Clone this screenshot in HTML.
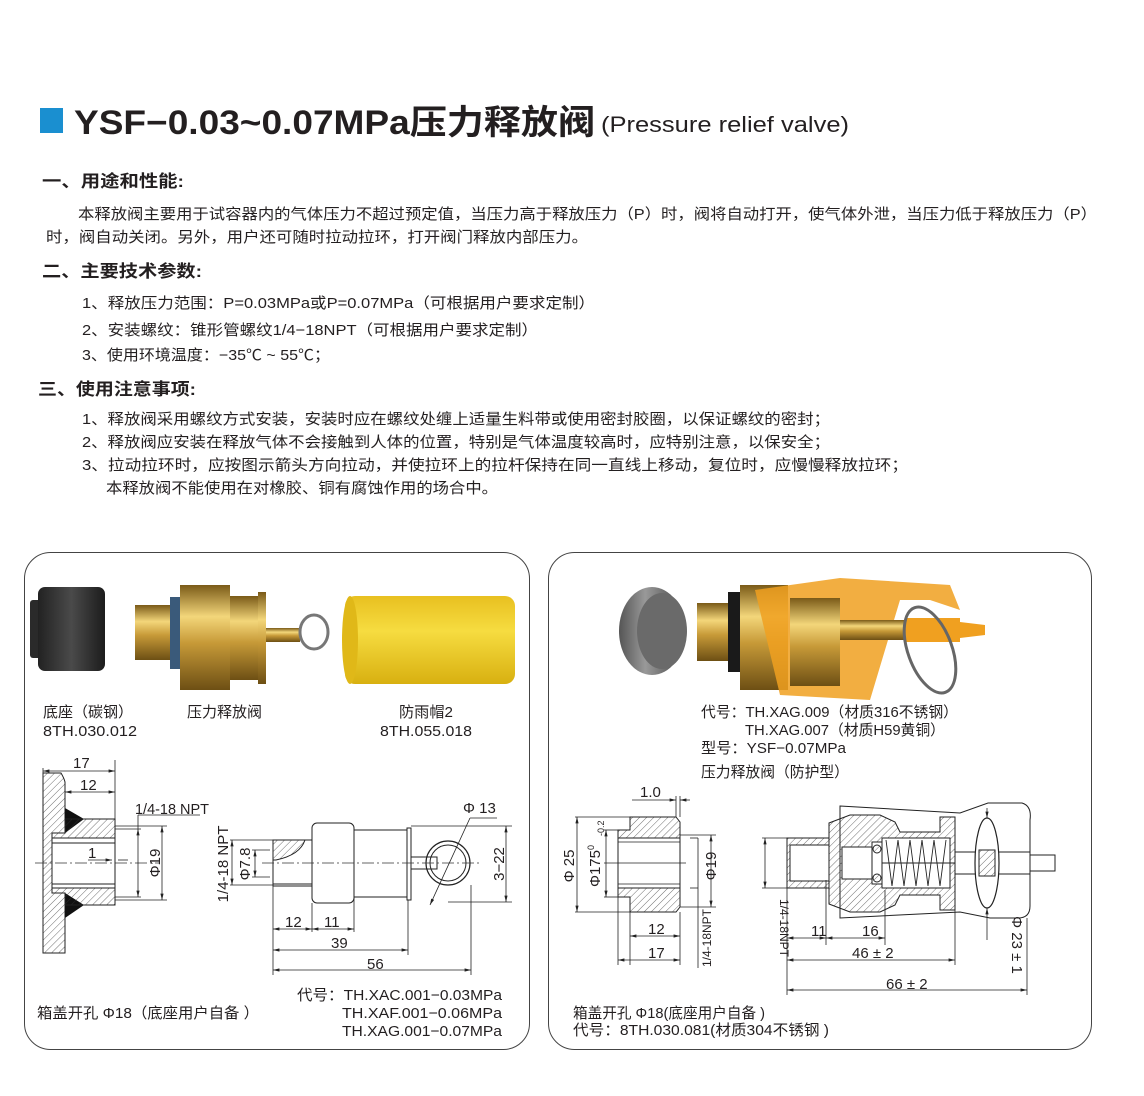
<!DOCTYPE html>
<html><head><meta charset="utf-8"><style>
html,body{margin:0;padding:0;background:#fff;}
svg{display:block;}
text{font-family:"Liberation Sans","Noto Sans CJK SC",sans-serif;fill:#231f20;}
.b{font-size:15px;}
.h{font-size:17px;font-weight:bold;}
.d{font-size:15px;}
.l{stroke:#222;stroke-width:1;fill:none;}
.t{stroke:#222;stroke-width:0.8;fill:none;}
.c{stroke:#333;stroke-width:0.7;stroke-dasharray:12 3 2 3;fill:none;}
</style></head><body>
<svg width="1144" height="1096" viewBox="0 0 1144 1096" xmlns="http://www.w3.org/2000/svg">
<defs>
<pattern id="hx" width="5" height="5" patternUnits="userSpaceOnUse" patternTransform="rotate(45)"><line x1="0" y1="0" x2="0" y2="5" stroke="#333" stroke-width="0.7"/></pattern>
<marker id="ar" markerWidth="8" markerHeight="6" refX="8" refY="3" orient="auto-start-reverse"><path d="M0,1 L8,3 L0,5Z" fill="#222"/></marker>
<linearGradient id="brass" x1="0" y1="0" x2="0" y2="1"><stop offset="0" stop-color="#7a5a18"/><stop offset=".3" stop-color="#f3d67a"/><stop offset=".55" stop-color="#c79a38"/><stop offset="1" stop-color="#6d4f14"/></linearGradient>
<linearGradient id="blk" x1="0" y1="0" x2="1" y2="0"><stop offset="0" stop-color="#222"/><stop offset=".5" stop-color="#4a4a4a"/><stop offset="1" stop-color="#1c1c1c"/></linearGradient>
<linearGradient id="yel" x1="0" y1="0" x2="0" y2="1"><stop offset="0" stop-color="#e8c020"/><stop offset=".4" stop-color="#f6dc40"/><stop offset="1" stop-color="#d8b010"/></linearGradient>
<linearGradient id="stl" x1="0" y1="0" x2="1" y2="0"><stop offset="0" stop-color="#555"/><stop offset=".4" stop-color="#999"/><stop offset="1" stop-color="#444"/></linearGradient>
</defs>

<!-- Title -->
<rect x="40" y="108" width="23" height="25" fill="#1a8fd0"/>
<text x="74" y="134" font-size="34" font-weight="bold" textLength="521" lengthAdjust="spacingAndGlyphs">YSF−0.03~0.07MPa压力释放阀</text>
<text x="601" y="132" font-size="22" textLength="248" lengthAdjust="spacingAndGlyphs">(Pressure relief valve)</text>

<text x="42" y="187" class="h" textLength="142" lengthAdjust="spacingAndGlyphs">一、用途和性能:</text>
<text x="78" y="219" class="b" textLength="1019" lengthAdjust="spacingAndGlyphs">本释放阀主要用于试容器内的气体压力不超过预定值，当压力高于释放压力（P）时，阀将自动打开，使气体外泄，当压力低于释放压力（P）</text>
<text x="46" y="242" class="b" textLength="542" lengthAdjust="spacingAndGlyphs">时，阀自动关闭。另外，用户还可随时拉动拉环，打开阀门释放内部压力。</text>

<text x="42" y="277" class="h" textLength="160" lengthAdjust="spacingAndGlyphs">二、主要技术参数:</text>
<text x="82" y="308" class="b" textLength="513" lengthAdjust="spacingAndGlyphs">1、释放压力范围：P=0.03MPa或P=0.07MPa（可根据用户要求定制）</text>
<text x="82" y="335" class="b" textLength="456" lengthAdjust="spacingAndGlyphs">2、安装螺纹：锥形管螺纹1/4−18NPT（可根据用户要求定制）</text>
<text x="82" y="360" class="b" textLength="248" lengthAdjust="spacingAndGlyphs">3、使用环境温度：−35℃ ~ 55℃；</text>

<text x="38" y="395" class="h" textLength="158" lengthAdjust="spacingAndGlyphs">三、使用注意事项:</text>
<text x="82" y="424" class="b" textLength="748" lengthAdjust="spacingAndGlyphs">1、释放阀采用螺纹方式安装，安装时应在螺纹处缠上适量生料带或使用密封胶圈，以保证螺纹的密封；</text>
<text x="82" y="447" class="b" textLength="748" lengthAdjust="spacingAndGlyphs">2、释放阀应安装在释放气体不会接触到人体的位置，特别是气体温度较高时，应特别注意，以保安全；</text>
<text x="82" y="470" class="b" textLength="826" lengthAdjust="spacingAndGlyphs">3、拉动拉环时，应按图示箭头方向拉动，并使拉环上的拉杆保持在同一直线上移动，复位时，应慢慢释放拉环；</text>
<text x="106" y="493" class="b" textLength="392" lengthAdjust="spacingAndGlyphs">本释放阀不能使用在对橡胶、铜有腐蚀作用的场合中。</text>

<!-- Panels -->
<rect x="24.5" y="552.5" width="505" height="497" rx="26" fill="none" stroke="#444" stroke-width="1"/>
<rect x="548.5" y="552.5" width="543" height="497" rx="26" fill="none" stroke="#444" stroke-width="1"/>

<!-- Left photos -->
<rect x="30" y="600" width="12" height="58" rx="3" fill="#2a2a2a"/>
<rect x="38" y="587" width="67" height="84" rx="7" fill="url(#blk)"/>
<rect x="135" y="605" width="40" height="55" fill="url(#brass)"/>
<rect x="170" y="597" width="12" height="72" fill="#3a5a7a"/>
<rect x="180" y="585" width="50" height="105" fill="url(#brass)"/>
<rect x="230" y="596" width="30" height="84" fill="url(#brass)"/>
<rect x="258" y="592" width="8" height="92" fill="url(#brass)"/>
<rect x="266" y="628" width="34" height="14" fill="url(#brass)"/>
<ellipse cx="314" cy="632" rx="14" ry="17" fill="none" stroke="#777" stroke-width="3"/>
<rect x="345" y="596" width="170" height="88" rx="10" fill="url(#yel)"/>
<ellipse cx="350" cy="640" rx="8" ry="44" fill="#e0b818"/>

<text x="43" y="717" class="d" textLength="90" lengthAdjust="spacingAndGlyphs">底座（碳钢）</text>
<text x="43" y="736" class="d" textLength="94" lengthAdjust="spacingAndGlyphs">8TH.030.012</text>
<text x="187" y="717" class="d" textLength="75" lengthAdjust="spacingAndGlyphs">压力释放阀</text>
<text x="399" y="717" class="d" textLength="54" lengthAdjust="spacingAndGlyphs">防雨帽2</text>
<text x="380" y="736" class="d" textLength="92" lengthAdjust="spacingAndGlyphs">8TH.055.018</text>

<!-- Right photo -->
<ellipse cx="652" cy="631" rx="33" ry="44" fill="url(#stl)"/>
<ellipse cx="662" cy="631" rx="25" ry="38" fill="#6a6a6a"/>
<rect x="697" y="603" width="35" height="58" fill="url(#brass)"/>
<rect x="728" y="592" width="14" height="80" fill="#1a1a1a"/>
<rect x="740" y="585" width="48" height="105" fill="url(#brass)"/>
<path d="M755,590 L840,578 L950,585 L960,610 L930,600 L900,600 L870,700 L780,695 Z" fill="#f0a020" opacity="0.85"/>
<rect x="790" y="598" width="50" height="88" fill="url(#brass)"/>
<rect x="840" y="620" width="80" height="20" fill="url(#brass)"/>
<rect x="905" y="618" width="55" height="24" fill="#f0a020"/>
<path d="M960,622 L985,625 L985,635 L960,638Z" fill="#f0a020"/>
<ellipse cx="930" cy="650" rx="22" ry="45" fill="none" stroke="#666" stroke-width="3" transform="rotate(-20 930 650)"/>

<text x="701" y="717" class="d" textLength="257" lengthAdjust="spacingAndGlyphs">代号：TH.XAG.009（材质316不锈钢）</text>
<text x="745" y="735" class="d" textLength="200" lengthAdjust="spacingAndGlyphs">TH.XAG.007（材质H59黄铜）</text>
<text x="701" y="753" class="d" textLength="145" lengthAdjust="spacingAndGlyphs">型号：YSF−0.07MPa</text>
<text x="701" y="777" class="d" textLength="148" lengthAdjust="spacingAndGlyphs">压力释放阀（防护型）</text>

<!-- LEFT DRAWING: base -->
<path d="M43,773 L61,773 Q64,778 65,782 L65,833 L52,833 L52,893 L65,893 L65,953 L43,953 Z" fill="url(#hx)" stroke="#222"/>
<path d="M65,808 L84,819 L65,833Z M65,918 L84,905 L65,893Z" fill="#111"/>
<path d="M65,819 L115,819 L115,838 L52,838 L52,833 L65,833 Z" fill="url(#hx)" stroke="#222"/>
<path d="M65,905 L115,905 L115,888 L52,888 L52,893 L65,893 Z" fill="url(#hx)" stroke="#222"/>
<line x1="52" y1="843" x2="115" y2="843" class="l"/><line x1="52" y1="884" x2="115" y2="884" class="l"/>
<line x1="115" y1="838" x2="115" y2="888" class="l"/>
<line x1="35" y1="863" x2="160" y2="863" class="c"/>
<!-- ext and dims -->
<line x1="43" y1="768" x2="43" y2="773" class="t"/><line x1="115" y1="760" x2="115" y2="819" class="t"/>
<line x1="43" y1="771" x2="115" y2="771" class="t" marker-start="url(#ar)" marker-end="url(#ar)"/>
<text x="73" y="768" class="d">17</text>
<line x1="65" y1="792" x2="115" y2="792" class="t" marker-start="url(#ar)" marker-end="url(#ar)"/>
<text x="80" y="790" class="d">12</text>
<line x1="115" y1="829" x2="141" y2="829" class="t"/><line x1="115" y1="897" x2="141" y2="897" class="t"/>
<line x1="138" y1="829" x2="138" y2="897" class="t" marker-start="url(#ar)" marker-end="url(#ar)"/>
<line x1="138" y1="815" x2="200" y2="815" class="t"/><line x1="138" y1="815" x2="138" y2="829" class="t"/>
<text x="135" y="814" class="d" textLength="74" lengthAdjust="spacingAndGlyphs">1/4-18 NPT</text>
<line x1="115" y1="826" x2="167" y2="826" class="t"/><line x1="115" y1="900" x2="167" y2="900" class="t"/>
<line x1="162" y1="826" x2="162" y2="900" class="t" marker-start="url(#ar)" marker-end="url(#ar)"/>
<text transform="translate(160,863) rotate(-90)" class="d" text-anchor="middle">Φ19</text>
<line x1="88" y1="860" x2="112" y2="860" class="t" marker-end="url(#ar)"/><line x1="118" y1="860" x2="128" y2="860" class="t"/>
<text x="88" y="858" class="d">1</text>

<!-- left valve -->
<path d="M273,840 L312,840 L312,886 L273,886 Z" fill="#fff" stroke="#222"/>
<path d="M273,840 L305,840 Q300,855 276,860 L273,860Z" fill="url(#hx)" stroke="#222"/>
<line x1="273" y1="884" x2="312" y2="884" class="l"/>
<rect x="312" y="823" width="42" height="80" rx="5" fill="#fff" stroke="#222"/>
<rect x="354" y="830" width="54" height="67" fill="#fff" stroke="#222"/>
<rect x="407" y="828" width="4" height="72" fill="#fff" stroke="#222"/>
<rect x="411" y="857" width="26" height="12" fill="#fff" stroke="#222"/>
<circle cx="448" cy="863" r="22" fill="none" stroke="#222" stroke-width="1.2"/>
<circle cx="448" cy="863" r="18" fill="none" stroke="#222"/>
<line x1="262" y1="863" x2="480" y2="863" class="c"/>
<line x1="430" y1="905" x2="470" y2="818" class="t" marker-start="url(#ar)"/>
<line x1="470" y1="818" x2="497" y2="818" class="t"/>
<text x="463" y="813" class="d">Φ 13</text>
<line x1="411" y1="826" x2="512" y2="826" class="t"/><line x1="448" y1="902" x2="512" y2="902" class="t"/>
<line x1="506" y1="826" x2="506" y2="902" class="t" marker-start="url(#ar)" marker-end="url(#ar)"/>
<text transform="translate(504,864) rotate(-90)" class="d" text-anchor="middle">3−22</text>
<line x1="230" y1="840" x2="273" y2="840" class="t"/><line x1="230" y1="885" x2="273" y2="885" class="t"/>
<line x1="232" y1="840" x2="232" y2="885" class="t" marker-start="url(#ar)" marker-end="url(#ar)"/>
<text transform="translate(228,864) rotate(-90)" class="d" text-anchor="middle" font-size="13">1/4-18 NPT</text>
<line x1="252" y1="850" x2="270" y2="850" class="t"/><line x1="252" y1="877" x2="270" y2="877" class="t"/>
<line x1="255" y1="850" x2="255" y2="877" class="t" marker-start="url(#ar)" marker-end="url(#ar)"/>
<text transform="translate(250,864) rotate(-90)" class="d" text-anchor="middle" font-size="13">Φ7.8</text>
<line x1="273" y1="886" x2="273" y2="975" class="t"/><line x1="312" y1="903" x2="312" y2="932" class="t"/>
<line x1="354" y1="897" x2="354" y2="932" class="t"/><line x1="408" y1="900" x2="408" y2="955" class="t"/>
<line x1="471" y1="885" x2="471" y2="975" class="t"/>
<line x1="273" y1="929" x2="312" y2="929" class="t" marker-start="url(#ar)" marker-end="url(#ar)"/>
<line x1="312" y1="929" x2="354" y2="929" class="t" marker-start="url(#ar)" marker-end="url(#ar)"/>
<text x="285" y="927" class="d">12</text><text x="324" y="927" class="d">11</text>
<line x1="273" y1="950" x2="408" y2="950" class="t" marker-start="url(#ar)" marker-end="url(#ar)"/>
<text x="331" y="948" class="d">39</text>
<line x1="273" y1="970" x2="471" y2="970" class="t" marker-start="url(#ar)" marker-end="url(#ar)"/>
<text x="367" y="969" class="d">56</text>

<text x="37" y="1018" class="d" textLength="222" lengthAdjust="spacingAndGlyphs">箱盖开孔 Φ18（底座用户自备 ）</text>
<text x="297" y="1000" class="d" textLength="205" lengthAdjust="spacingAndGlyphs">代号：TH.XAC.001−0.03MPa</text>
<text x="342" y="1018" class="d" textLength="160" lengthAdjust="spacingAndGlyphs">TH.XAF.001−0.06MPa</text>
<text x="342" y="1036" class="d" textLength="160" lengthAdjust="spacingAndGlyphs">TH.XAG.001−0.07MPa</text>

<!-- RIGHT DRAWING: base -->
<path d="M630,817 L676,817 L680,822 L680,907 L676,912 L630,912 L630,897 L618,897 L618,830 L630,830 Z" fill="url(#hx)" stroke="#222"/>
<rect x="618" y="838" width="62" height="50" fill="#fff" stroke="#222"/>
<line x1="618" y1="842" x2="680" y2="842" class="t"/><line x1="618" y1="884" x2="680" y2="884" class="t"/>
<line x1="604" y1="863" x2="686" y2="863" class="t"/>
<line x1="575" y1="817" x2="630" y2="817" class="t"/><line x1="575" y1="912" x2="630" y2="912" class="t"/>
<line x1="577" y1="817" x2="577" y2="912" class="t" marker-start="url(#ar)" marker-end="url(#ar)"/>
<text transform="translate(574,866) rotate(-90)" class="d" text-anchor="middle">Φ 25</text>
<line x1="604" y1="830" x2="618" y2="830" class="t"/><line x1="604" y1="897" x2="618" y2="897" class="t"/>
<line x1="606" y1="830" x2="606" y2="897" class="t" marker-start="url(#ar)" marker-end="url(#ar)"/>
<text transform="translate(600,866) rotate(-90)" class="d" text-anchor="middle" font-size="14">Φ175<tspan font-size="9" dy="-6">0</tspan></text>
<text transform="translate(604,836) rotate(-90)" font-size="9">-0.2</text>
<line x1="680" y1="835" x2="716" y2="835" class="t"/><line x1="680" y1="907" x2="716" y2="907" class="t"/>
<line x1="711" y1="835" x2="711" y2="907" class="t" marker-start="url(#ar)" marker-end="url(#ar)"/>
<text transform="translate(716,866) rotate(-90)" class="d" text-anchor="middle">Φ19</text>
<line x1="698" y1="838" x2="698" y2="968" class="t"/>
<line x1="690" y1="838" x2="698" y2="838" class="t"/><line x1="690" y1="888" x2="698" y2="888" class="t"/>
<text transform="translate(711,938) rotate(-90)" text-anchor="middle" font-size="12">1/4-18NPT</text>
<line x1="676" y1="796" x2="676" y2="817" class="t"/><line x1="680" y1="796" x2="680" y2="817" class="t"/>
<line x1="632" y1="800" x2="676" y2="800" class="t" marker-end="url(#ar)"/><line x1="680" y1="800" x2="690" y2="800" class="t" marker-start="url(#ar)"/>
<text x="640" y="797" class="d">1.0</text>
<line x1="630" y1="912" x2="630" y2="965" class="t"/><line x1="618" y1="897" x2="618" y2="965" class="t"/><line x1="680" y1="912" x2="680" y2="965" class="t"/>
<line x1="630" y1="936" x2="680" y2="936" class="t" marker-start="url(#ar)" marker-end="url(#ar)"/>
<text x="648" y="934" class="d">12</text>
<line x1="618" y1="960" x2="680" y2="960" class="t" marker-start="url(#ar)" marker-end="url(#ar)"/>
<text x="648" y="958" class="d">17</text>

<!-- right valve -->
<path d="M840,806 L960,813 L988,803 L1022,803 Q1032,806 1030,820 L1030,906 Q1030,918 1018,918 L990,918 L960,912 L840,918 Z" fill="none" stroke="#222"/>
<rect x="787" y="838" width="42" height="50" fill="url(#hx)" stroke="#222"/>
<rect x="790" y="845" width="39" height="36" fill="#fff" stroke="#222"/>
<path d="M829,823 L850,815 L880,815 L895,822 L900,832 L940,832 L940,817 L955,817 L955,910 L940,910 L940,895 L900,895 L895,905 L880,912 L850,912 L829,904 Z" fill="url(#hx)" stroke="#222"/>
<rect x="842" y="847" width="30" height="32" fill="#fff" stroke="#222"/>
<rect x="872" y="842" width="10" height="42" fill="#fff" stroke="#222"/>
<circle cx="877" cy="849" r="4" fill="url(#hx)" stroke="#222"/><circle cx="877" cy="878" r="4" fill="url(#hx)" stroke="#222"/>
<rect x="882" y="838" width="68" height="50" fill="#fff" stroke="#222"/>
<path d="M886,840 L892,886 L898,840 L904,886 L910,840 L916,886 L922,840 L928,886 L934,840 L940,886 L946,840" fill="none" stroke="#222" stroke-width="0.9"/>
<line x1="882" y1="863" x2="1055" y2="863" class="l"/>
<rect x="955" y="852" width="75" height="22" fill="#fff" stroke="#222"/>
<ellipse cx="987" cy="863" rx="12" ry="45" fill="#fff" stroke="#222" stroke-width="1.2"/>
<rect x="979" y="850" width="16" height="26" fill="url(#hx)" stroke="#222"/>
<rect x="1030" y="855" width="25" height="16" fill="#fff" stroke="#222"/>
<line x1="838" y1="846" x2="1055" y2="846" class="t" opacity="0"/>
<!-- right dims -->
<line x1="762" y1="838" x2="787" y2="838" class="t"/><line x1="762" y1="888" x2="787" y2="888" class="t"/>
<line x1="765" y1="838" x2="765" y2="888" class="t" marker-start="url(#ar)" marker-end="url(#ar)"/>
<text transform="translate(780,928) rotate(90)" text-anchor="middle" font-size="12">1/4-18NPT</text>
<line x1="787" y1="888" x2="787" y2="995" class="t"/><line x1="826" y1="880" x2="826" y2="945" class="t"/>
<line x1="885" y1="890" x2="885" y2="945" class="t"/><line x1="955" y1="910" x2="955" y2="965" class="t"/>
<line x1="1027" y1="918" x2="1027" y2="995" class="t"/>
<line x1="787" y1="938" x2="826" y2="938" class="t" marker-start="url(#ar)" marker-end="url(#ar)"/>
<line x1="826" y1="938" x2="885" y2="938" class="t" marker-start="url(#ar)" marker-end="url(#ar)"/>
<text x="811" y="936" class="d">11</text><text x="862" y="936" class="d">16</text>
<line x1="787" y1="960" x2="955" y2="960" class="t" marker-start="url(#ar)" marker-end="url(#ar)"/>
<text x="852" y="958" class="d">46 ± 2</text>
<line x1="787" y1="990" x2="1027" y2="990" class="t" marker-start="url(#ar)" marker-end="url(#ar)"/>
<text x="886" y="989" class="d">66 ± 2</text>
<line x1="987" y1="808" x2="987" y2="818" class="t" marker-end="url(#ar)"/>
<line x1="987" y1="918" x2="987" y2="908" class="t" marker-end="url(#ar)"/>
<line x1="987" y1="918" x2="987" y2="940" class="t"/>
<text transform="translate(1012,945) rotate(90)" class="d" text-anchor="middle">Φ 23 ± 1</text>

<text x="573" y="1018" class="d" textLength="192" lengthAdjust="spacingAndGlyphs">箱盖开孔 Φ18(底座用户自备 )</text>
<text x="573" y="1035" class="d" textLength="256" lengthAdjust="spacingAndGlyphs">代号：8TH.030.081(材质304不锈钢 )</text>
</svg>
</body></html>
